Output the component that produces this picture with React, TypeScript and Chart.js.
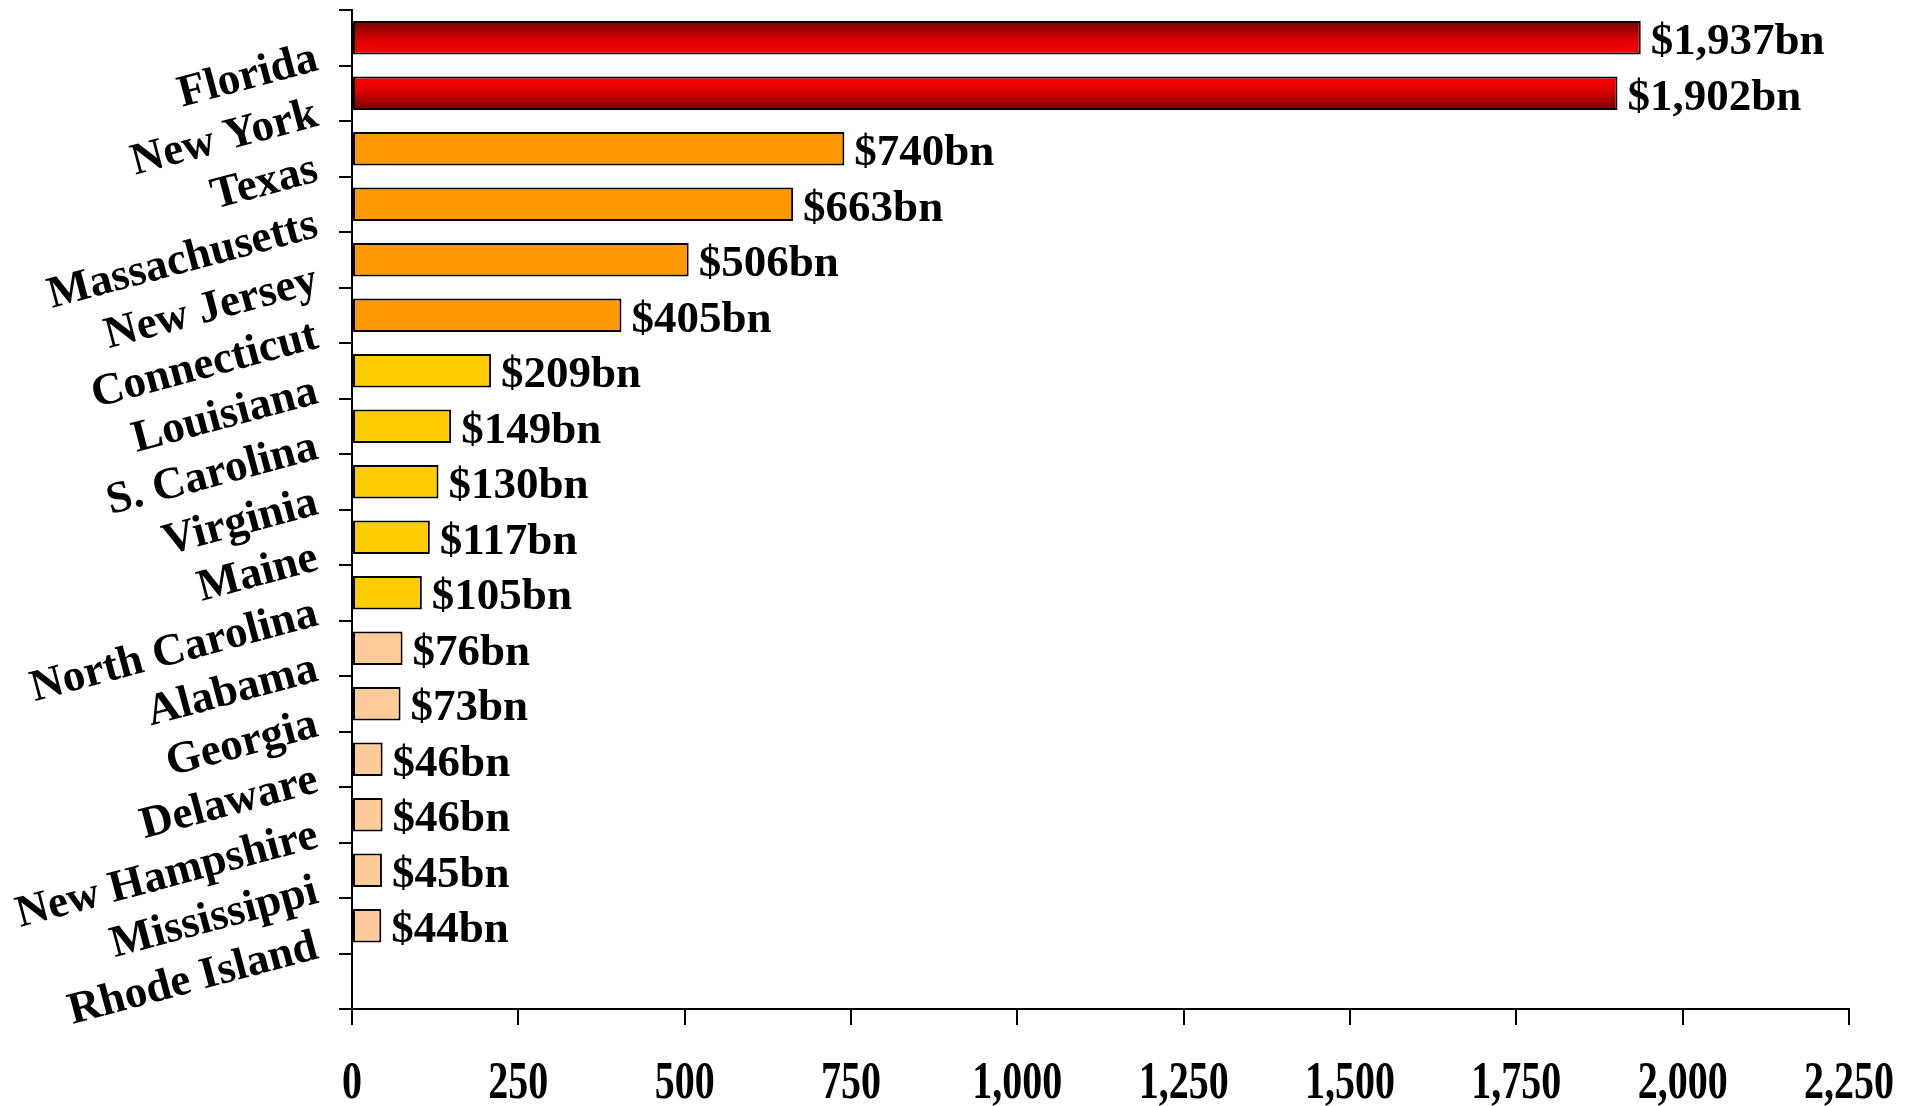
import React, { useEffect, useRef } from "react";
import { Chart, registerables } from "chart.js";

Chart.register(...registerables);

// ---- data ----
const states = [
  "Florida",
  "New York",
  "Texas",
  "Massachusetts",
  "New Jersey",
  "Connecticut",
  "Louisiana",
  "S. Carolina",
  "Virginia",
  "Maine",
  "North Carolina",
  "Alabama",
  "Georgia",
  "Delaware",
  "New Hampshire",
  "Mississippi",
  "Rhode Island",
];
const values = [1937, 1902, 740, 663, 506, 405, 209, 149, 130, 117, 105, 76, 73, 46, 46, 45, 44];
const xMin = 0;
const xMax = 2250;
const xStep = 250;

// ---- styles ----
const FONT = "'Liberation Serif', 'Times New Roman', serif";
const ORANGE = "#FF9900";
const GOLD = "#FFCC00";
const PEACH = "#FFCC99";
const barColors = [
  "#FF0000", "#FF0000",
  ORANGE, ORANGE, ORANGE, ORANGE,
  GOLD, GOLD, GOLD, GOLD, GOLD,
  PEACH, PEACH, PEACH, PEACH, PEACH, PEACH,
];

export default function App() {
  const ref = useRef<HTMLCanvasElement | null>(null);

  useEffect(() => {
    if (!ref.current) return;
    const labels = [...states, ""];
    const data: (number | null)[] = [...values, null];

    const catLabelPlugin = {
      id: "catLabels",
      afterDraw(chart: any) {
        const ctx = chart.ctx as CanvasRenderingContext2D;
        const ys = chart.scales.y;
        ctx.save();
        ctx.font = `bold 45px ${FONT}`;
        ctx.fillStyle = "#000";
        ctx.textAlign = "right";
        ctx.textBaseline = "alphabetic";
        states.forEach((s, i) => {
          const py = ys.getPixelForValue(i) + 32;
          ctx.save();
          ctx.translate(ys.right - 32, py);
          ctx.rotate((-15 * Math.PI) / 180);
          ctx.fillText(s, 0, 0);
          ctx.restore();
        });
        ctx.restore();
      },
    };

    // x tick labels: drawn at the x scale's own tick positions, in a tall narrow face
    const xTickLabelPlugin = {
      id: "xTickLabels",
      afterDraw(chart: any) {
        const ctx = chart.ctx as CanvasRenderingContext2D;
        const xs = chart.scales.x;
        ctx.save();
        ctx.font = `bold 40px ${FONT}`;
        ctx.fillStyle = "#000";
        ctx.textAlign = "center";
        ctx.textBaseline = "alphabetic";
        xs.ticks.forEach((t: any, i: number) => {
          const px = xs.getPixelForTick(i);
          ctx.save();
          ctx.translate(px, xs.top + 89);
          ctx.scale(1, 1.3);
          ctx.fillText(Number(t.value).toLocaleString("en-US"), 0, 0);
          ctx.restore();
        });
        ctx.restore();
      },
    };

    const valueLabelPlugin = {
      id: "valueLabels",
      afterDatasetsDraw(chart: any) {
        const ctx = chart.ctx as CanvasRenderingContext2D;
        const meta = chart.getDatasetMeta(0);
        ctx.save();
        ctx.font = `bold 45px ${FONT}`;
        ctx.fillStyle = "#000";
        ctx.textAlign = "left";
        ctx.textBaseline = "middle";
        meta.data.forEach((bar: any, i: number) => {
          if (i >= values.length) return;
          ctx.fillText(`$${values[i].toLocaleString("en-US")}bn`, bar.x + 10, bar.y + 5);
        });
        ctx.restore();
      },
    };

    const chart = new Chart(ref.current, {
      type: "bar",
      data: {
        labels,
        datasets: [
          {
            data,
            backgroundColor: (c: any) => {
              const i = c.dataIndex;
              if (i === undefined) return ORANGE;
              if (i < 2) {
                const ys = c.chart.scales.y;
                if (!ys || !isFinite(ys.getPixelForValue(0))) return "#FF0000";
                const cy = ys.getPixelForValue(i);
                const half = (ys.getPixelForValue(1) - ys.getPixelForValue(0)) * 0.3;
                const g = c.chart.ctx.createLinearGradient(0, cy - half, 0, cy + half);
                if (i === 0) {
                  g.addColorStop(0, "#760000");
                  g.addColorStop(0.6, "#E00000");
                  g.addColorStop(1, "#FF0000");
                } else {
                  g.addColorStop(0, "#FF0000");
                  g.addColorStop(0.4, "#E00000");
                  g.addColorStop(1, "#760000");
                }
                return g;
              }
              return barColors[i] || PEACH;
            },
            borderColor: "#000",
            borderWidth: 2,
            borderSkipped: false,
            categoryPercentage: 1,
            barPercentage: 0.6,
          },
        ],
      },
      options: {
        indexAxis: "y",
        responsive: true,
        maintainAspectRatio: false,
        animation: false,
        layout: { padding: { top: 10, right: 80, left: 0, bottom: 0 } },
        plugins: {
          legend: { display: false },
          tooltip: { enabled: false },
        },
        scales: {
          x: {
            type: "linear",
            min: xMin,
            max: xMax,
            ticks: {
              stepSize: xStep,
              display: false,
              callback: (v: any) => Number(v).toLocaleString("en-US"),
            },
            grid: {
              drawOnChartArea: false,
              color: "#000",
              lineWidth: 2,
              tickLength: 16,
            },
            border: { display: true, color: "#000", width: 2 },
            afterFit: (s: any) => {
              s.height = 97;
            },
          },
          y: {
            ticks: { display: false },
            grid: {
              drawOnChartArea: false,
              color: "#000",
              lineWidth: 2,
              tickLength: 13,
              offset: true,
            },
            border: { display: true, color: "#000", width: 2 },
            afterFit: (s: any) => {
              s.width = 352;
            },
          },
        },
      },
      plugins: [valueLabelPlugin, catLabelPlugin, xTickLabelPlugin],
    } as any);

    return () => chart.destroy();
  }, []);

  return (
    <div style={{ position: "absolute", left: 0, top: 0, width: 1929, height: 1106, background: "#fff" }}>
      <canvas ref={ref} />
    </div>
  );
}
